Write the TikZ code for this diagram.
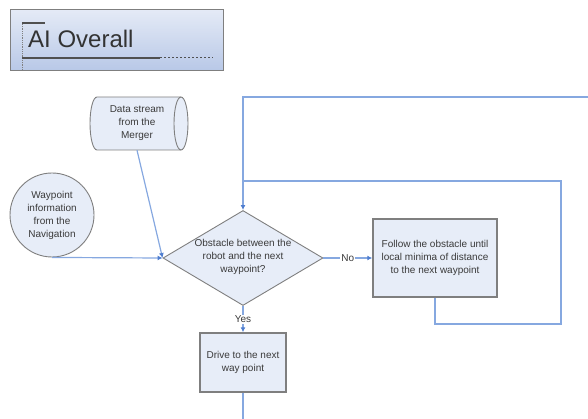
\documentclass[tikz,border=0pt]{standalone}
\usepackage{fontspec}
\setmainfont{Liberation Sans}
\usetikzlibrary{shapes.geometric,arrows.meta}
\definecolor{flowline}{HTML}{86A8E0}
\definecolor{tipblue}{HTML}{4F7ED0}
\definecolor{boxfill}{HTML}{E7EDF8}
\definecolor{boxedge}{HTML}{7F7F7F}
\definecolor{inktext}{HTML}{3A3A3A}
\definecolor{titletop}{HTML}{E4EAF6}
\definecolor{titlebot}{HTML}{B8C8E7}
\definecolor{rulegray}{HTML}{505050}

\begin{document}
\begin{tikzpicture}[x=1pt,y=-1pt,
  every node/.style={font=\fontsize{10}{13}\selectfont, text=inktext},
  flow/.style={draw=flowline, line width=1.2pt},
  arrowflow/.style={flow, -{Latex[length=5pt,width=5pt,color=tipblue]}},
  procbox/.style={rectangle, draw=boxedge, line width=1.4pt, fill=boxfill,
                  align=center, inner sep=0pt},
  edgelabel/.style={fill=white, inner sep=1pt}]

  \path[use as bounding box] (0,0) rectangle (588,419);

  % title banner
  \node[rectangle, draw=boxedge, line width=1pt, top color=titletop,
        bottom color=titlebot, minimum width=213pt, minimum height=61pt,
        inner sep=0pt] (title) at (116.5,40.5) {};
  \draw[rulegray, line width=1.2pt] (22,23) -- (45,23);
  \draw[gray, line width=0.8pt, densely dotted] (22,24) -- (22,70);
  \draw[rulegray, line width=1.2pt] (22,58) -- (160,58);
  \draw[rulegray, line width=1pt, dash pattern=on 2pt off 2pt] (160,58) -- (213,58);
  \node[anchor=base west, font=\fontsize{24}{28}\selectfont, text=black!80,
        inner sep=0pt] (titletext) at (28,48) {AI Overall};

  % stored data (horizontal cylinder)
  \path[fill=boxfill, draw=boxedge, line width=0.9pt]
    (97,97) -- (181,97)
    .. controls (184.9,97) and (188,108.9) .. (188,123.5)
    .. controls (188,138.1) and (184.9,150) .. (181,150)
    -- (97,150)
    .. controls (93.1,150) and (90,138.1) .. (90,123.5)
    .. controls (90,108.9) and (93.1,97) .. (97,97) -- cycle;
  \draw[boxedge, line width=0.9pt]
    (181,97) .. controls (177.1,97) and (174,108.9) .. (174,123.5)
    .. controls (174,138.1) and (177.1,150) .. (181,150);
  \node[rectangle, minimum width=98pt, minimum height=53pt, inner sep=0pt,
        align=center] (merger) at (137,123.5) {Data stream\\from the\\Merger};

  % waypoint input
  \node[circle, draw=boxedge, line width=0.9pt, fill=boxfill, minimum size=84pt,
        inner sep=0pt, align=center] (wp) at (52,215)
        {Waypoint\\information\\from the\\Navigation};

  % decision
  \node[diamond, draw=boxedge, line width=0.9pt, fill=boxfill, minimum width=160pt,
        minimum height=95pt, inner sep=0pt] (dia) at (243,258) {};
  \node[align=center, inner sep=0pt] (diatext) at (243,257)
        {Obstacle between the\\robot and the next\\waypoint?};

  % actions
  \node[procbox, minimum width=124pt, minimum height=78pt] (follow) at (435,258)
        {Follow the obstacle until\\local minima of distance\\to the next waypoint};
  \node[procbox, minimum width=86pt, minimum height=59pt] (drive) at (243,362.5)
        {Drive to the next\\way point};

  % free ends and bends
  \coordinate (feedIn) at (588,97);
  \coordinate (loopR) at (561,324);
  \coordinate (loopTop) at (561,181);
  \coordinate (driveOut) at (243,419);

  % connectors
  \draw[arrowflow] (merger.south) -- (dia.west);
  \draw[arrowflow] (wp.south) -- (dia.west);
  \draw[arrowflow] (dia.east) -- node[edgelabel] {No} (follow.west);
  \draw[arrowflow] (dia.south) -- node[edgelabel] {Yes} (drive.north);
  \draw[arrowflow] (feedIn) -- (dia.north |- feedIn) -- (dia.north);
  \draw[flow] (follow.south) |- (loopR) -- (loopTop) -- (dia.north |- loopTop);
  \draw[flow] (drive.south) -- (driveOut);
\end{tikzpicture}
\end{document}
